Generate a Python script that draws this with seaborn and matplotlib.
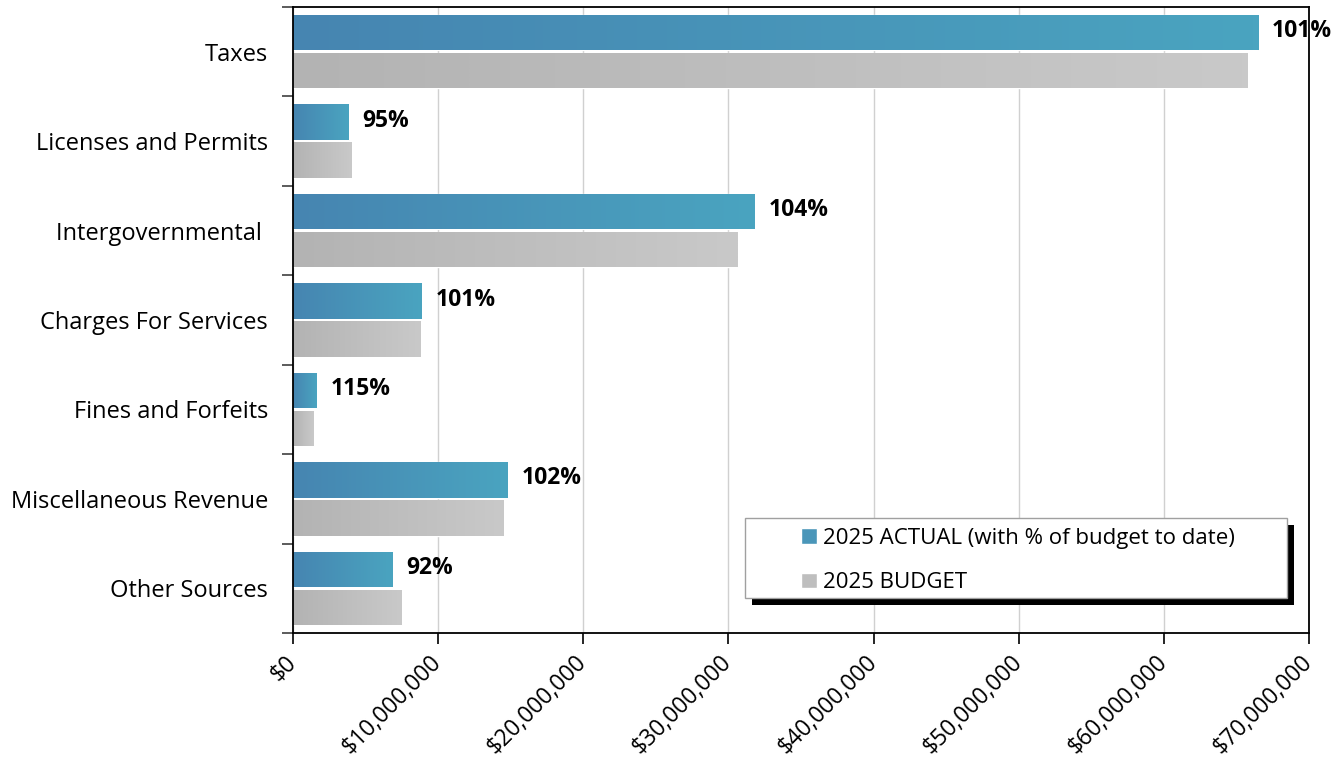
import numpy as np
import pandas as pd
import seaborn as sns
import matplotlib.pyplot as plt
from matplotlib.colors import LinearSegmentedColormap
from matplotlib.patches import Rectangle, Patch

categories = ["Taxes", "Licenses and Permits", "Intergovernmental ", "Charges For Services",
              "Fines and Forfeits", "Miscellaneous Revenue", "Other Sources"]
actual = [66.5e6, 3.84e6, 31.8e6, 8.88e6, 1.63e6, 14.78e6, 6.88e6]
budget = [65.75e6, 4.03e6, 30.6e6, 8.8e6, 1.42e6, 14.5e6, 7.5e6]
pct_labels = ["101%", "95%", "104%", "101%", "115%", "102%", "92%"]
series = ["2025 ACTUAL (with % of budget to date)", "2025 BUDGET"]
x_ticks = np.arange(0, 70e6 + 1, 10e6)

df = pd.DataFrame({
    "Category": categories * 2,
    "Amount": actual + budget,
    "Series": [series[0]] * len(categories) + [series[1]] * len(categories),
})

sns.set_style("white")
plt.rcParams["font.family"] = ["Open Sans", "DejaVu Sans"]
plt.rcParams["text.color"] = "black"
plt.rcParams["xtick.labelcolor"] = "black"
plt.rcParams["ytick.labelcolor"] = "black"

W, H = 1340, 759
fig = plt.figure(figsize=(W / 100, H / 100), dpi=100)
ax = fig.add_axes([293 / W, (H - 633) / H, 1016 / W, 626 / H])

sns.barplot(data=df, y="Category", x="Amount", hue="Series", order=categories,
            hue_order=series, orient="h", width=0.85, gap=0.07,
            palette=["#4A96B9", "#BEBEBE"], saturation=1, legend=False, ax=ax)

# gradient fill for each bar (left dark -> right light)
blue_cmap = LinearSegmentedColormap.from_list("blue", ["#4685B1", "#4AA4C0"])
grey_cmap = LinearSegmentedColormap.from_list("grey", ["#B3B3B3", "#C9C9C9"])
grad = np.linspace(0, 1, 256).reshape(1, -1)
bars = list(ax.patches)
for i, bar in enumerate(bars):
    cmap = blue_cmap if i < len(categories) else grey_cmap
    x0, y0 = bar.get_x(), bar.get_y()
    w, h = bar.get_width(), bar.get_height()
    im = ax.imshow(grad, cmap=cmap, aspect="auto", extent=(x0, x0 + w, y0 + h, y0),
                   zorder=bar.get_zorder() + 0.1, interpolation="bilinear")
    im.set_clip_path(bar)

for i, lab in enumerate(pct_labels):
    bar = bars[i]
    ax.annotate(lab, xy=(bar.get_x() + bar.get_width(), bar.get_y() + bar.get_height() / 2),
                xytext=(10, 1), textcoords="offset points", ha="left", va="center",
                fontsize=16.5, fontweight="bold", color="black", annotation_clip=False)

ax.set_xlim(0, 70e6)
ax.set_ylim(len(categories) - 0.5, -0.5)
ax.set_xticks(x_ticks)
ax.set_xticklabels([f"${v:,.0f}" for v in x_ticks], rotation=45, ha="right",
                   va="center", rotation_mode="anchor", fontsize=16.5)
ax.xaxis.grid(True, color="#D0D0D0", linewidth=1)
ax.set_axisbelow(True)
ax.set_yticks(range(len(categories)))
ax.set_yticklabels(categories, fontsize=17)
ax.set_yticks(np.arange(-0.5, len(categories)), minor=True)
ax.tick_params(axis="y", which="major", length=0, pad=18)
ax.tick_params(axis="y", which="minor", length=8, width=1.2, color="#404040", left=True)
ax.tick_params(axis="x", length=8, width=1.2, color="black", bottom=True, pad=11)
for s in ax.spines.values():
    s.set_color("black")
    s.set_linewidth(1.3)
ax.set_xlabel("")
ax.set_ylabel("")

# legend box with hard black shadow
bx0, by0, bw, bh = 745, 518, 542, 80
fig.patches.append(Rectangle(((bx0 + 7) / W, (H - by0 - bh - 7) / H), bw / W, bh / H,
                             transform=fig.transFigure, facecolor="black", edgecolor="none", zorder=3))
fig.patches.append(Rectangle((bx0 / W, (H - by0 - bh) / H), bw / W, bh / H,
                             transform=fig.transFigure, facecolor="white", edgecolor="#A0A0A0",
                             linewidth=1, zorder=4))
handles = [Patch(facecolor="#4A96B9"), Patch(facecolor="#BEBEBE")]
fig.legend(handles, series, loc="upper left", bbox_to_anchor=(801 / W, 1 - 528 / H),
           frameon=False, fontsize=16, handlelength=0.7, handleheight=0.7,
           handletextpad=0.3, labelspacing=1.05, borderpad=0, borderaxespad=0)

fig.savefig("out.png", dpi=100)
